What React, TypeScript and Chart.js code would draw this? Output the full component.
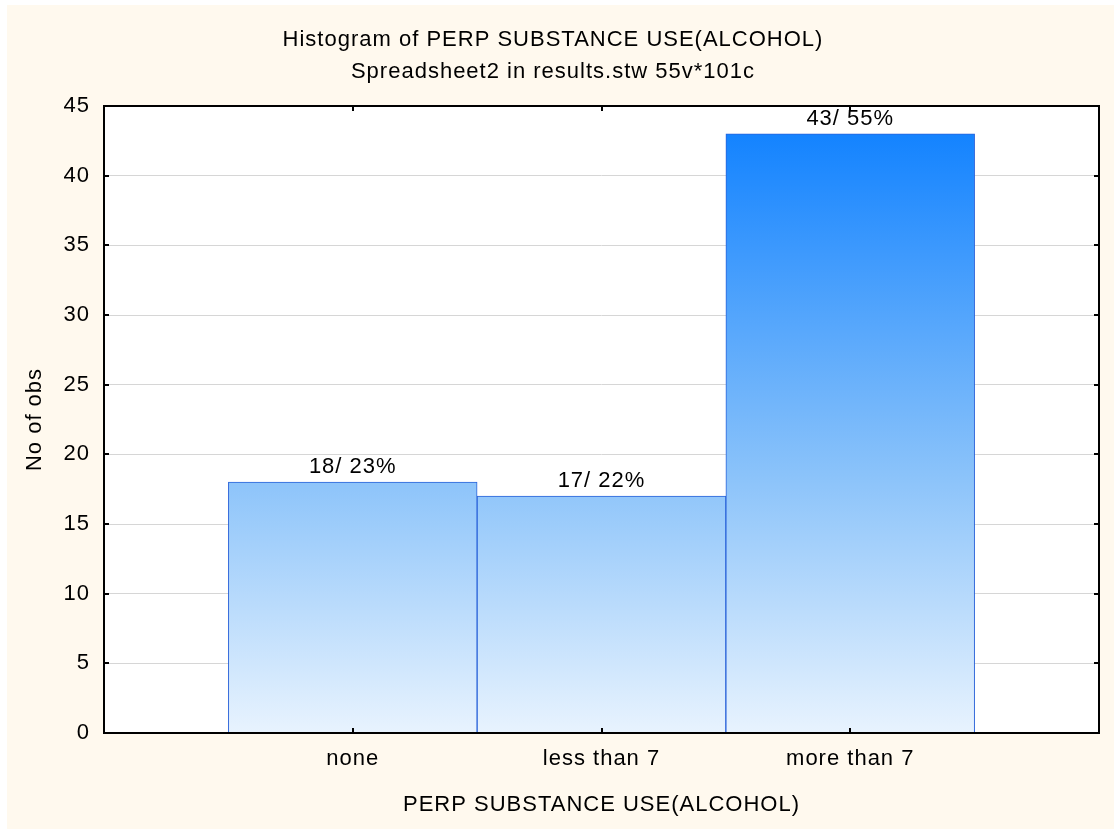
import React, { useEffect, useRef } from 'react';
import { Chart, registerables } from 'chart.js';

Chart.register(...registerables);

const titleLines = ['Histogram of PERP SUBSTANCE USE(ALCOHOL)', 'Spreadsheet2 in results.stw 55v*101c'];
const categories = ['none', 'less than 7', 'more than 7'];
const categoryPositions = [1, 2, 3];
const counts = [18, 17, 43];
const percentLabels = ['23%', '22%', '55%'];
const yTickValues = [0, 5, 10, 15, 20, 25, 30, 35, 40, 45];
const xAxisTitle = 'PERP SUBSTANCE USE(ALCOHOL)';
const yAxisTitle = 'No of obs';

const FONT = "'Liberation Sans', Arial, sans-serif";
const FONT_SIZE = 22;
const SPACING = '1px';

const framePlugin = {
  id: 'statFrame',
  beforeDraw(chart: any) {
    const { ctx, chartArea: a, width, height } = chart;
    (ctx as any).letterSpacing = SPACING;
    ctx.save();
    ctx.fillStyle = '#FFF9EE';
    ctx.fillRect(0, 0, width, height);
    ctx.fillStyle = '#FFFFFF';
    ctx.fillRect(a.left, a.top, a.right - a.left, a.bottom - a.top);
    ctx.restore();
  },
  afterDatasetsDraw(chart: any) {
    const { ctx, chartArea: a, scales } = chart;
    ctx.save();
    ctx.strokeStyle = '#000000';
    ctx.lineWidth = 2;
    ctx.strokeRect(a.left, a.top, a.right - a.left, a.bottom - a.top);
    const t = 5;
    ctx.beginPath();
    yTickValues.forEach((v) => {
      const y = Math.round(scales.y.getPixelForValue(v));
      ctx.moveTo(a.left, y);
      ctx.lineTo(a.left + t, y);
      ctx.moveTo(a.right, y);
      ctx.lineTo(a.right - t, y);
    });
    categoryPositions.forEach((p) => {
      const x = Math.round(scales.x.getPixelForValue(p));
      ctx.moveTo(x, a.bottom);
      ctx.lineTo(x, a.bottom - t);
      ctx.moveTo(x, a.top);
      ctx.lineTo(x, a.top + t);
    });
    ctx.stroke();

    const meta = chart.getDatasetMeta(0);
    ctx.fillStyle = '#000000';
    ctx.font = `${FONT_SIZE}px ${FONT}`;
    (ctx as any).letterSpacing = SPACING;
    ctx.textAlign = 'center';
    ctx.textBaseline = 'alphabetic';
    meta.data.forEach((bar: any, i: number) => {
      ctx.fillText(`${counts[i]}/ ${percentLabels[i]}`, bar.x, bar.y - 9);
    });
    ctx.restore();
  },
};

export default function App() {
  const canvasRef = useRef<HTMLCanvasElement | null>(null);

  useEffect(() => {
    document.body.style.margin = '0';
    document.body.style.overflow = 'hidden';
    const canvas = canvasRef.current;
    if (!canvas) return;

    const chart = new Chart(canvas, {
      type: 'bar',
      data: {
        datasets: [
          {
            data: categoryPositions.map((x, i) => ({ x, y: counts[i] })),
            backgroundColor: (c: any) => {
              const ch = c.chart;
              const a = ch.chartArea;
              if (!a) return '#8DC4FA';
              const g = ch.ctx.createLinearGradient(0, a.top, 0, a.bottom);
              g.addColorStop(0, '#0A7EFF');
              g.addColorStop(0.6, '#8DC4FA');
              g.addColorStop(1, '#E8F3FE');
              return g;
            },
            borderColor: '#2962D9',
            borderWidth: 1,
            barPercentage: 1,
            categoryPercentage: 1,
          },
        ],
      },
      options: {
        animation: false,
        responsive: false,
        layout: { padding: { left: 0, right: 15, top: 0, bottom: 0 } },
        plugins: {
          legend: { display: false },
          tooltip: { enabled: false },
          title: {
            display: true,
            text: titleLines,
            color: '#000000',
            font: { family: FONT, size: FONT_SIZE, weight: 'normal', lineHeight: 32 / FONT_SIZE },
            padding: { top: 19, bottom: 18 },
          },
        },
        scales: {
          x: {
            type: 'linear',
            min: 0,
            max: 4,
            offset: false,
            afterBuildTicks: (scale: any) => {
              scale.ticks = categoryPositions.map((v) => ({ value: v }));
            },
            afterFit: (scale: any) => {
              scale.height = 96;
            },
            ticks: {
              autoSkip: false,
              maxRotation: 0,
              padding: 13,
              color: '#000000',
              font: { family: FONT, size: FONT_SIZE },
              callback: (value: any) => {
                const idx = categoryPositions.indexOf(Number(value));
                return idx >= 0 ? categories[idx] : '';
              },
            },
            grid: { display: false, drawTicks: false, offset: false },
            border: { display: false },
            title: {
              display: true,
              text: xAxisTitle,
              color: '#000000',
              font: { family: FONT, size: FONT_SIZE },
              padding: { top: 0, bottom: 11 },
            },
          },
          y: {
            min: 0,
            max: 45,
            afterBuildTicks: (scale: any) => {
              scale.ticks = yTickValues.map((v) => ({ value: v }));
            },
            afterFit: (scale: any) => {
              scale.width = 97;
            },
            ticks: {
              padding: 14,
              color: '#000000',
              font: { family: FONT, size: FONT_SIZE },
            },
            grid: { color: '#D6D6D6', lineWidth: 1, drawTicks: false },
            border: { display: false },
            title: {
              display: true,
              text: yAxisTitle,
              color: '#000000',
              font: { family: FONT, size: FONT_SIZE },
              padding: { top: 15, bottom: 0 },
            },
          },
        },
      } as any,
      plugins: [framePlugin],
    });

    return () => chart.destroy();
  }, []);

  return (
    <div style={{ margin: '5px 0 0 7px', width: 1107, height: 824, background: '#FFF9EE' }}>
      <canvas ref={canvasRef} width={1107} height={824} style={{ display: 'block' }} />
    </div>
  );
}
